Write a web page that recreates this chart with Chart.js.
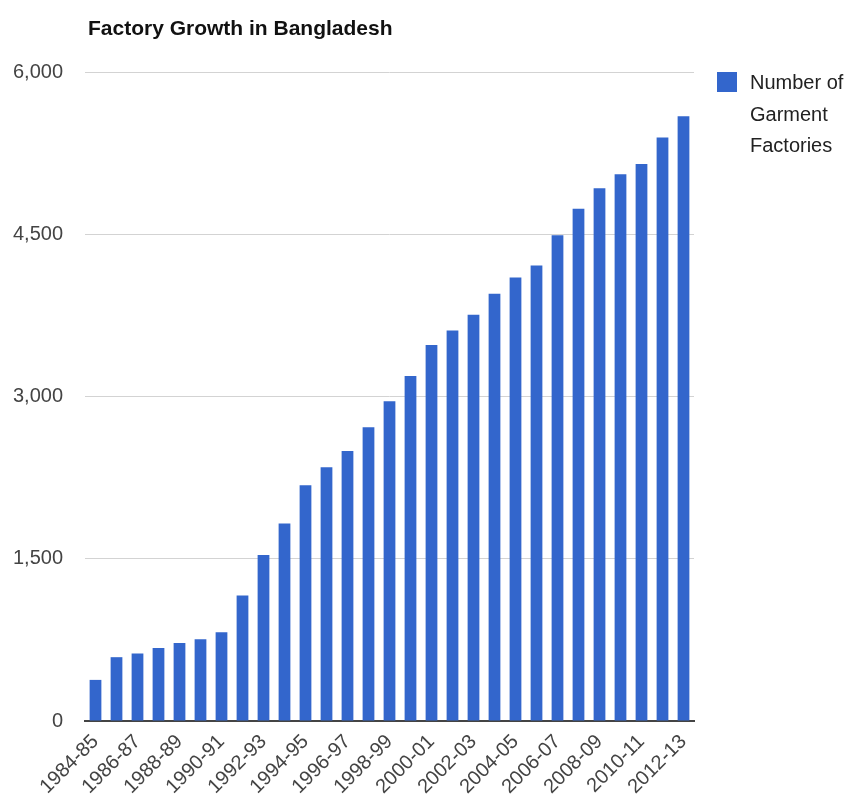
<!DOCTYPE html>
<html>
<head>
<meta charset="utf-8">
<title>Factory Growth in Bangladesh</title>
<script src="https://cdn.jsdelivr.net/npm/chart.js@4.4.1/dist/chart.umd.min.js"></script>
<style>
    html, body { margin: 0; padding: 0; background: #fff; }
    #wrap { width: 851px; height: 803px; position: relative; }
</style>
</head>
<body>
<div id="wrap"><canvas id="chart" width="851" height="803"></canvas></div>
<script>
// data
const categories = ['1984-85', '1985-86', '1986-87', '1987-88', '1988-89', '1989-90', '1990-91', '1991-92',
    '1992-93', '1993-94', '1994-95', '1995-96', '1996-97', '1997-98', '1998-99', '1999-00', '2000-01',
    '2001-02', '2002-03', '2003-04', '2004-05', '2005-06', '2006-07', '2007-08', '2008-09', '2009-10',
    '2010-11', '2011-12', '2012-13'];
const factories = [380, 590, 625, 675, 720, 755, 820, 1160, 1535, 1825, 2180, 2345, 2495, 2715, 2955,
    3190, 3475, 3610, 3755, 3950, 4100, 4210, 4490, 4735, 4925, 5055, 5150, 5395, 5590];
const yTicks = [0, 1500, 3000, 4500, 6000];
const chartTitle = 'Factory Growth in Bangladesh';
const seriesName = ['Number of', 'Garment', 'Factories'];

const barColor = '#3366cc';
const fontFamily = '"Liberation Sans", Arial, Helvetica, sans-serif';

// title top left + legend on the right, like the google chart
const titleLegendPlugin = {
    id: 'titleLegend',
    afterDraw(chart) {
        const ctx = chart.ctx;
        ctx.save();
        ctx.fillStyle = '#111';
        ctx.font = 'bold 21px ' + fontFamily;
        ctx.textAlign = 'left';
        ctx.textBaseline = 'alphabetic';
        ctx.fillText(chartTitle, 88, 35);

        ctx.fillStyle = barColor;
        ctx.fillRect(717, 72, 20, 20);

        ctx.fillStyle = '#222';
        ctx.font = '20px ' + fontFamily;
        seriesName.forEach((line, i) => {
            ctx.fillText(line, 750, 89 + i * 31.7);
        });
        ctx.restore();
    }
};

const ctx = document.getElementById('chart').getContext('2d');
const chart = new Chart(ctx, {
    type: 'bar',
    data: {
        labels: categories,
        datasets: [{
            label: seriesName.join(' '),
            data: factories,
            backgroundColor: barColor,
            borderWidth: 0,
            barPercentage: 0.56,
            categoryPercentage: 1
        }]
    },
    options: {
        responsive: false,
        animation: false,
        layout: { padding: { top: 72, right: 157, bottom: 0, left: 0 } },
        plugins: {
            legend: { display: false },
            title: { display: false },
            tooltip: { enabled: false }
        },
        scales: {
            x: {
                grid: { display: false, drawTicks: false },
                border: { display: true, color: '#444', width: 2 },
                ticks: {
                    autoSkip: false,
                    maxRotation: 45,
                    minRotation: 45,
                    padding: 9,
                    color: '#444',
                    font: { family: fontFamily, size: 20 },
                    callback: function (val, index) {
                        return index % 2 === 0 ? this.getLabelForValue(val) : '';
                    }
                },
                afterFit: (axis) => { axis.height = 82; }
            },
            y: {
                min: 0,
                max: 6000,
                afterBuildTicks: (axis) => { axis.ticks = yTicks.map(v => ({ value: v })); },
                grid: {
                    drawTicks: false,
                    color: (c) => c.tick && c.tick.value === 0 ? 'rgba(0,0,0,0)' : '#d3d3d3',
                    lineWidth: 1
                },
                border: { display: false },
                ticks: {
                    padding: 22,
                    color: '#444',
                    font: { family: fontFamily, size: 20 },
                    callback: (v) => Number(v).toLocaleString('en-US')
                },
                afterFit: (axis) => { axis.width = 85; }
            }
        }
    },
    plugins: [titleLegendPlugin]
});
</script>
</body>
</html>
